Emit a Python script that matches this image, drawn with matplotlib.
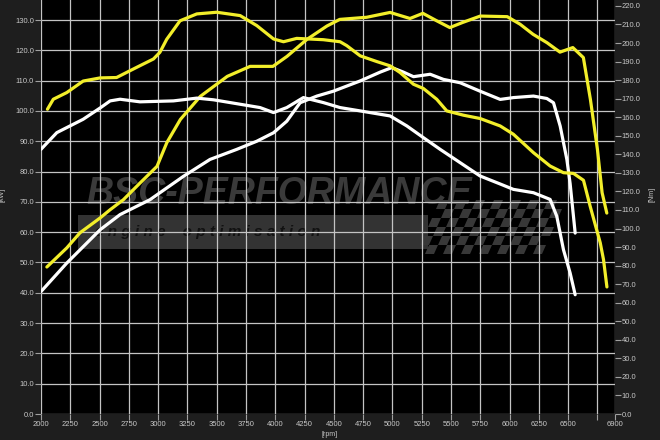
#!/usr/bin/env python3
"""Dyno chart: stock vs tuned power and torque over engine speed."""
import matplotlib
matplotlib.use('Agg')
import matplotlib.pyplot as plt
from matplotlib.patches import Polygon, Rectangle

plt.rcParams['font.family'] = ['Liberation Sans', 'DejaVu Sans']

# tuned power, left axis
tuned_power_rpm = [2050, 2220, 2333, 2505, 2590, 2703, 2845, 2990, 3075, 3190,
                   3360, 3590, 3785, 3980, 4100, 4270, 4440, 4550, 4780, 4980,
                   5150, 5260, 5380, 5490, 5600, 5750, 5980, 6090, 6200, 6320,
                   6430, 6540, 6630, 6690, 6750, 6790, 6830]
tuned_power = [48.5, 54.8, 59.8, 64.7, 67.4, 70.7, 76.2, 81.7, 89.6, 97.2,
               104.8, 111.4, 114.7, 114.7, 118.0, 123.6, 128.0, 130.2, 130.9, 132.5,
               130.5, 132.2, 129.7, 127.5, 129.2, 131.3, 131.1, 128.6, 125.3, 122.5,
               119.4, 120.9, 117.6, 103.8, 87.3, 73.0, 66.3]

# tuned torque, right axis
tuned_torque_rpm = [2055, 2105, 2220, 2360, 2505, 2645, 2817, 2960, 3015, 3073,
                    3187, 3330, 3500, 3700, 3842, 3985, 4070, 4183, 4410, 4553,
                    4610, 4725, 4867, 4980, 5065, 5179, 5264, 5378, 5464, 5606,
                    5749, 5920, 6033, 6204, 6346, 6460, 6546, 6631, 6688, 6774,
                    6802, 6831]
tuned_torque = [164.3, 169.7, 173.3, 179.5, 181.2, 181.4, 186.9, 191.4, 195.0, 202.0,
                212.0, 215.7, 216.6, 214.8, 209.4, 202.2, 200.7, 202.5, 201.8, 200.7,
                198.6, 193.1, 190.0, 187.7, 184.1, 177.8, 175.5, 169.7, 163.4, 161.1,
                159.3, 155.3, 150.8, 140.9, 133.7, 130.1, 129.7, 126.0, 112.0, 92.3,
                83.2, 68.5]

# stock power, left axis
stock_power_rpm = [2000, 2220, 2505, 2675, 2930, 3215, 3443, 3670, 3842, 3985,
                   4098, 4212, 4355, 4495, 4725, 4895, 4995, 5094, 5180, 5322,
                   5436, 5578, 5749, 5920, 6033, 6204, 6318, 6375, 6432, 6489,
                   6517, 6560]
stock_power = [40.4, 49.8, 60.8, 65.8, 70.7, 78.4, 84.0, 87.3, 90.0, 92.8,
               96.6, 102.7, 104.9, 106.5, 109.9, 112.8, 114.3, 112.8, 111.3, 112.1,
               110.4, 109.3, 106.5, 103.8, 104.4, 104.9, 104.1, 102.7, 95.0, 84.0,
               76.0, 59.7]

# stock torque, right axis
stock_torque_rpm = [2000, 2135, 2360, 2505, 2590, 2675, 2845, 3130, 3330, 3472,
                    3700, 3870, 3985, 4098, 4240, 4410, 4553, 4725, 4980, 5123,
                    5264, 5407, 5578, 5749, 5920, 6033, 6204, 6346, 6403, 6460,
                    6517, 6560]
stock_torque = [142.7, 151.7, 158.9, 165.0, 168.8, 169.7, 168.3, 168.8, 170.3, 169.4,
                167.0, 165.2, 162.5, 165.2, 170.6, 167.9, 165.2, 163.4, 160.7, 155.3,
                149.0, 142.7, 135.5, 128.3, 124.0, 121.1, 119.3, 115.7, 106.6, 88.6,
                76.0, 64.3]

rpm_ticks = list(range(2000, 6751, 250)) + [6900]
rpm_labels = [str(r) if r != 6750 else '' for r in rpm_ticks]
left_ticks = list(range(0, 131, 10))
right_ticks = list(range(0, 221, 10))

YELLOW = '#f2ee2a'
WHITE = '#ffffff'
TXT = '#c8c8c8'

fig = plt.figure(figsize=(6.6, 4.4), dpi=100, facecolor='#1e1e1e')
ax = fig.add_axes([41 / 660, 26 / 440, 574 / 660, 414 / 440])
ax.set_facecolor('black')
ax.set_xlim(2000, 6900)
ax.set_ylim(0, 136.6)
ax2 = ax.twinx()
ax2.set_ylim(0, 223.2)

for a in (ax, ax2):
    for s in a.spines.values():
        s.set_visible(False)

ax.set_xticks(rpm_ticks)
ax.set_xticklabels(rpm_labels)
ax.set_yticks(left_ticks)
ax.set_yticklabels(['%.1f' % v for v in left_ticks])
ax2.set_yticks(right_ticks)
ax2.set_yticklabels(['%.1f' % v for v in right_ticks])
for a in (ax, ax2):
    a.tick_params(axis='both', colors='#a0a0a0', labelcolor=TXT, labelsize=5.5,
                  length=4, width=0.8, pad=1)

ax.set_axisbelow(True)
ax.grid(True, color='#c4c4c4', lw=0.9)


# watermark, in pixel positions of the plot area
def px(x, y):
    return ((x - 41) / 574, (414 - y) / 414)


wm = '#3a3a3a'
ax.add_patch(Rectangle(px(78, 249), 350 / 574, 34 / 414, transform=ax.transAxes,
                       color='#333333', zorder=0.2, lw=0))
ax.text(*px(86, 194), 'BSC-PERFORMANCE', transform=ax.transAxes, color=wm,
        fontsize=27, fontweight='bold', style='italic', va='center', ha='left',
        zorder=0.3)
ax.text(*px(95, 232), 'e n g i n e    o p t i m i s a t i o n', transform=ax.transAxes,
        color='#111111', fontsize=11, fontweight='bold', style='italic',
        va='center', ha='left', zorder=0.3)
# checkered flag
cell = 9
for row in range(6):
    for col in range(14):
        if (row + col) % 2:
            continue
        x0 = 440 + col * cell - row * 4
        y0 = 200 + row * cell
        pts = [px(x0, y0), px(x0 + cell, y0), px(x0 + cell - 4, y0 + cell),
               px(x0 - 4, y0 + cell)]
        ax.add_patch(Polygon(pts, closed=True, transform=ax.transAxes,
                             color='#383838', lw=0, zorder=0.2))

# curves
lw = 2.3
ax.plot(stock_power_rpm, stock_power, color=WHITE, lw=lw, solid_joinstyle='round',
        solid_capstyle='round', zorder=3)
ax.plot(tuned_power_rpm, tuned_power, color=YELLOW, lw=lw, solid_joinstyle='round',
        solid_capstyle='round', zorder=3)
ax2.plot(stock_torque_rpm, stock_torque, color=WHITE, lw=lw, solid_joinstyle='round',
         solid_capstyle='round', zorder=3)
ax2.plot(tuned_torque_rpm, tuned_torque, color=YELLOW, lw=lw, solid_joinstyle='round',
         solid_capstyle='round', zorder=3)

ax.set_ylabel('[kW]', fontsize=5, color=TXT)
ax.yaxis.set_label_coords(-0.061, 0.53)
ax2.set_ylabel('[Nm]', fontsize=5, color=TXT)
ax2.yaxis.set_label_coords(1.0575, 0.53)
ax.set_xlabel('[rpm]', fontsize=5, color=TXT)
ax.xaxis.set_label_coords(0.503, -0.042)

fig.savefig('out.png', dpi=100, facecolor=fig.get_facecolor())
